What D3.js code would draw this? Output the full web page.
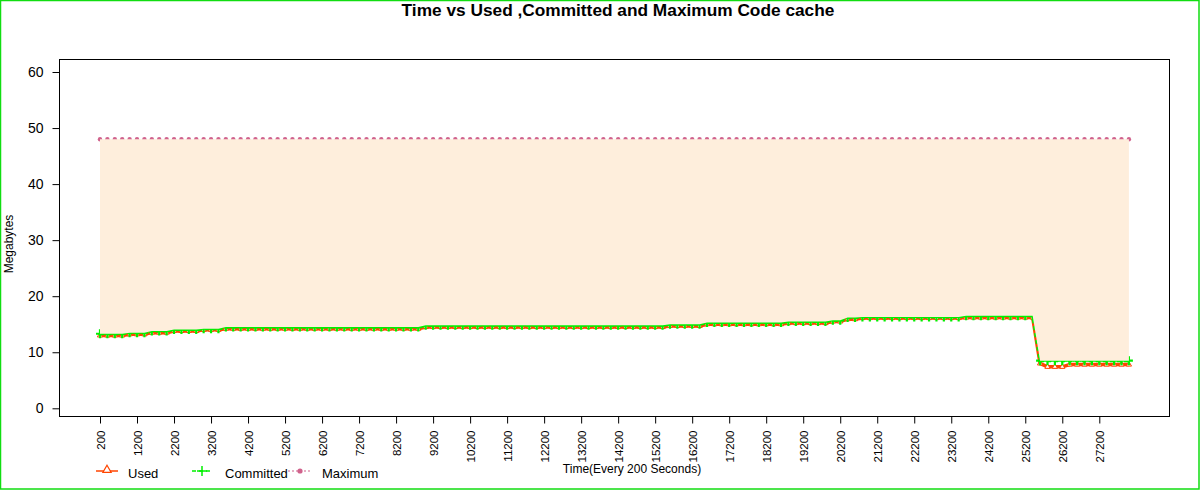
<!DOCTYPE html>
<html>
<head>
<meta charset="utf-8">
<script src="https://cdn.jsdelivr.net/npm/d3@7"></script>
<style>
  body { margin: 0; background: #fff; }
  text { font-family: Arial, "Liberation Sans", sans-serif; fill: #000; }
</style>
</head>
<body>
<div id="chart"></div>
<script>
// time in seconds, one sample every 200 s
let times = [
  200, 400, 600, 800, 1000, 1200, 1400, 1600, 1800, 2000,
  2200, 2400, 2600, 2800, 3000, 3200, 3400, 3600, 3800, 4000,
  4200, 4400, 4600, 4800, 5000, 5200, 5400, 5600, 5800, 6000,
  6200, 6400, 6600, 6800, 7000, 7200, 7400, 7600, 7800, 8000,
  8200, 8400, 8600, 8800, 9000, 9200, 9400, 9600, 9800, 10000,
  10200, 10400, 10600, 10800, 11000, 11200, 11400, 11600, 11800, 12000,
  12200, 12400, 12600, 12800, 13000, 13200, 13400, 13600, 13800, 14000,
  14200, 14400, 14600, 14800, 15000, 15200, 15400, 15600, 15800, 16000,
  16200, 16400, 16600, 16800, 17000, 17200, 17400, 17600, 17800, 18000,
  18200, 18400, 18600, 18800, 19000, 19200, 19400, 19600, 19800, 20000,
  20200, 20400, 20600, 20800, 21000, 21200, 21400, 21600, 21800, 22000,
  22200, 22400, 22600, 22800, 23000, 23200, 23400, 23600, 23800, 24000,
  24200, 24400, 24600, 24800, 25000, 25200, 25400, 25600, 25800, 26000,
  26200, 26400, 26600, 26800, 27000, 27200, 27400, 27600, 27800, 28000
];

// Megabytes
let used = [
  13.0, 13.0, 13.0, 13.0, 13.2, 13.2, 13.2, 13.5, 13.5, 13.5,
  13.8, 13.8, 13.8, 13.8, 14.0, 14.0, 14.0, 14.2, 14.2, 14.2,
  14.2, 14.2, 14.2, 14.2, 14.2, 14.2, 14.2, 14.2, 14.2, 14.2,
  14.2, 14.2, 14.2, 14.2, 14.2, 14.2, 14.2, 14.2, 14.2, 14.2,
  14.2, 14.2, 14.2, 14.2, 14.5, 14.5, 14.5, 14.5, 14.5, 14.5,
  14.5, 14.5, 14.5, 14.5, 14.5, 14.5, 14.5, 14.5, 14.5, 14.5,
  14.5, 14.5, 14.5, 14.5, 14.5, 14.5, 14.5, 14.5, 14.5, 14.5,
  14.5, 14.5, 14.5, 14.5, 14.5, 14.5, 14.5, 14.7, 14.7, 14.7,
  14.7, 14.7, 15.0, 15.0, 15.0, 15.0, 15.0, 15.0, 15.0, 15.0,
  15.0, 15.0, 15.0, 15.2, 15.2, 15.2, 15.2, 15.2, 15.2, 15.5,
  15.5, 15.9, 15.9, 16.1, 16.1, 16.1, 16.1, 16.1, 16.1, 16.1,
  16.1, 16.1, 16.1, 16.1, 16.1, 16.1, 16.1, 16.2, 16.2, 16.2,
  16.2, 16.2, 16.2, 16.2, 16.2, 16.2, 16.2, 8.0, 7.4, 7.4,
  7.4, 7.8, 7.8, 7.8, 7.8, 7.8, 7.8, 7.8, 7.8, 7.8
];

let committed = [
  13.3, 13.3, 13.3, 13.3, 13.5, 13.5, 13.5, 13.8, 13.8, 13.8,
  14.05, 14.05, 14.05, 14.05, 14.2, 14.2, 14.2, 14.5, 14.5, 14.5,
  14.5, 14.5, 14.5, 14.5, 14.5, 14.5, 14.5, 14.5, 14.5, 14.5,
  14.5, 14.5, 14.5, 14.5, 14.5, 14.5, 14.5, 14.5, 14.5, 14.5,
  14.5, 14.5, 14.5, 14.5, 14.8, 14.8, 14.8, 14.8, 14.8, 14.8,
  14.8, 14.8, 14.8, 14.8, 14.8, 14.8, 14.8, 14.8, 14.8, 14.8,
  14.8, 14.8, 14.8, 14.8, 14.8, 14.8, 14.8, 14.8, 14.8, 14.8,
  14.8, 14.8, 14.8, 14.8, 14.8, 14.8, 14.8, 15.0, 15.0, 15.0,
  15.0, 15.0, 15.3, 15.3, 15.3, 15.3, 15.3, 15.3, 15.3, 15.3,
  15.3, 15.3, 15.3, 15.5, 15.5, 15.5, 15.5, 15.5, 15.5, 15.7,
  15.7, 16.2, 16.2, 16.3, 16.3, 16.3, 16.3, 16.3, 16.3, 16.3,
  16.3, 16.3, 16.3, 16.3, 16.3, 16.3, 16.3, 16.5, 16.5, 16.5,
  16.5, 16.5, 16.5, 16.5, 16.5, 16.5, 16.5, 8.5, 8.5, 8.5,
  8.5, 8.5, 8.5, 8.5, 8.5, 8.5, 8.5, 8.5, 8.5, 8.5
];

let maximum = [
  48, 48, 48, 48, 48, 48, 48, 48, 48, 48,
  48, 48, 48, 48, 48, 48, 48, 48, 48, 48,
  48, 48, 48, 48, 48, 48, 48, 48, 48, 48,
  48, 48, 48, 48, 48, 48, 48, 48, 48, 48,
  48, 48, 48, 48, 48, 48, 48, 48, 48, 48,
  48, 48, 48, 48, 48, 48, 48, 48, 48, 48,
  48, 48, 48, 48, 48, 48, 48, 48, 48, 48,
  48, 48, 48, 48, 48, 48, 48, 48, 48, 48,
  48, 48, 48, 48, 48, 48, 48, 48, 48, 48,
  48, 48, 48, 48, 48, 48, 48, 48, 48, 48,
  48, 48, 48, 48, 48, 48, 48, 48, 48, 48,
  48, 48, 48, 48, 48, 48, 48, 48, 48, 48,
  48, 48, 48, 48, 48, 48, 48, 48, 48, 48,
  48, 48, 48, 48, 48, 48, 48, 48, 48, 48
];

let xTicks = [200, 1200, 2200, 3200, 4200, 5200, 6200, 7200, 8200, 9200,
  10200, 11200, 12200, 13200, 14200, 15200, 16200, 17200, 18200, 19200,
  20200, 21200, 22200, 23200, 24200, 25200, 26200, 27200];
let yTicks = [0, 10, 20, 30, 40, 50, 60];

let svgWidth = 1200;
let svgHeight = 490;

let box = { left: 59.5, right: 1169.5, top: 59.5, bottom: 416.5 };

let usedColor = "#ff4500";
let committedColor = "#00f000";
let maxColor = "#d0628c";
let fillColor = "#feeedc";

let svg = d3.select("#chart")
  .append("svg")
  .attr("width", svgWidth)
  .attr("height", svgHeight);

// outer frame
svg.append("rect")
  .attr("x", 0.5).attr("y", 0.5)
  .attr("width", svgWidth - 1.5).attr("height", svgHeight - 1.5)
  .attr("fill", "none")
  .attr("stroke", "#11dd11")
  .attr("stroke-width", 1.5);

let x = d3.scaleLinear().domain([200, 27200]).range([100, 1099.3]);
let y = d3.scaleLinear().domain([0, 60]).range([408.3, 72]);

let data = times.map((t, i) => ({ t: t, used: used[i], committed: committed[i], max: maximum[i] }));

// plot box
svg.append("rect")
  .attr("x", box.left).attr("y", box.top)
  .attr("width", box.right - box.left).attr("height", box.bottom - box.top)
  .attr("fill", "none")
  .attr("stroke", "#000");

// axes
let xAxis = svg.append("g")
  .attr("transform", `translate(0, ${box.bottom})`)
  .call(d3.axisBottom(x).tickValues(xTicks).tickSize(7).tickSizeOuter(0).tickFormat(d3.format("d")));
xAxis.select(".domain").remove();
xAxis.selectAll("text")
  .style("font-size", "11.5px")
  .attr("transform", "rotate(-90)")
  .attr("x", -14)
  .attr("y", 0)
  .attr("dy", "0.35em")
  .style("text-anchor", "end");

let yAxis = svg.append("g")
  .attr("transform", `translate(${box.left}, 0)`)
  .call(d3.axisLeft(y).tickValues(yTicks).tickSize(7).tickSizeOuter(0));
yAxis.select(".domain").remove();
yAxis.selectAll("text")
  .style("font-size", "14px")
  .attr("x", -16);

// series lines
let usedLine = d3.line().x(d => x(d.t)).y(d => y(d.used));
let committedLine = d3.line().x(d => x(d.t)).y(d => y(d.committed));

svg.append("path")
  .datum(data)
  .attr("d", usedLine)
  .attr("fill", "none")
  .attr("stroke", usedColor)
  .attr("stroke-width", 3.5);

svg.selectAll(".usedPt")
  .data(data)
  .enter()
  .append("path")
  .attr("class", "usedPt")
  .attr("transform", d => `translate(${x(d.t)}, ${y(d.used)})`)
  .attr("d", d3.symbol().type(d3.symbolTriangle).size(12))
  .attr("fill", "#fff")
  .attr("stroke", usedColor)
  .attr("stroke-width", 1);

svg.append("path")
  .datum(data)
  .attr("d", committedLine)
  .attr("fill", "none")
  .attr("stroke", committedColor)
  .attr("stroke-width", 3)
  .attr("stroke-dasharray", "4,3");

svg.selectAll(".commPt")
  .data(data)
  .enter()
  .append("path")
  .attr("class", "commPt")
  .attr("transform", d => `translate(${x(d.t)}, ${y(d.committed)})`)
  .attr("d", "M-4,0H4M0,-4.5V4.5")
  .attr("fill", "none")
  .attr("stroke", committedColor)
  .attr("stroke-width", 2.2);

svg.selectAll(".maxPt")
  .data(data)
  .enter()
  .append("circle")
  .attr("class", "maxPt")
  .attr("cx", d => x(d.t))
  .attr("cy", d => y(d.max))
  .attr("r", 2.2)
  .attr("fill", maxColor);

// shaded band between committed and maximum (drawn last, covers half the strokes)
let band = d3.area()
  .x(d => x(d.t))
  .y0(d => y(d.committed))
  .y1(d => y(d.max));

svg.append("path")
  .datum(data)
  .attr("d", band)
  .attr("fill", fillColor);

// title and axis labels
svg.append("text")
  .attr("x", 618)
  .attr("y", 16)
  .attr("text-anchor", "middle")
  .style("font-size", "17.3px")
  .style("font-weight", "bold")
  .text("Time vs Used ,Committed and Maximum Code cache");

svg.append("text")
  .attr("transform", "translate(13, 244) rotate(-90)")
  .attr("text-anchor", "middle")
  .style("font-size", "12px")
  .text("Megabytes");

svg.append("text")
  .attr("x", 632)
  .attr("y", 473)
  .attr("text-anchor", "middle")
  .style("font-size", "12px")
  .text("Time(Every 200 Seconds)");

// legend
let legendY = 471;
let legend = svg.append("g");

legend.append("line")
  .attr("x1", 96).attr("x2", 118).attr("y1", legendY).attr("y2", legendY)
  .attr("stroke", usedColor).attr("stroke-width", 1.5);
legend.append("path")
  .attr("transform", `translate(107, ${legendY - 1})`)
  .attr("d", d3.symbol().type(d3.symbolTriangle).size(30))
  .attr("fill", "#fff")
  .attr("stroke", usedColor)
  .attr("stroke-width", 1.2);
legend.append("text")
  .attr("x", 128).attr("y", legendY + 6.5)
  .style("font-size", "13px")
  .text("Used");

legend.append("line")
  .attr("x1", 192).attr("x2", 213).attr("y1", legendY).attr("y2", legendY)
  .attr("stroke", committedColor).attr("stroke-width", 1.5)
  .attr("stroke-dasharray", "4,3");
legend.append("path")
  .attr("transform", `translate(202, ${legendY})`)
  .attr("d", "M-5,0H5M0,-5V5")
  .attr("stroke", committedColor)
  .attr("stroke-width", 1.5);
legend.append("text")
  .attr("x", 225).attr("y", legendY + 6.5)
  .style("font-size", "13px")
  .text("Committed");

legend.append("line")
  .attr("x1", 288).attr("x2", 312).attr("y1", legendY).attr("y2", legendY)
  .attr("stroke", maxColor).attr("stroke-width", 1.2)
  .attr("stroke-dasharray", "2,2");
legend.append("circle")
  .attr("cx", 300).attr("cy", legendY).attr("r", 2.6)
  .attr("fill", maxColor);
legend.append("text")
  .attr("x", 322).attr("y", legendY + 6.5)
  .style("font-size", "13px")
  .text("Maximum");
</script>
</body>
</html>
